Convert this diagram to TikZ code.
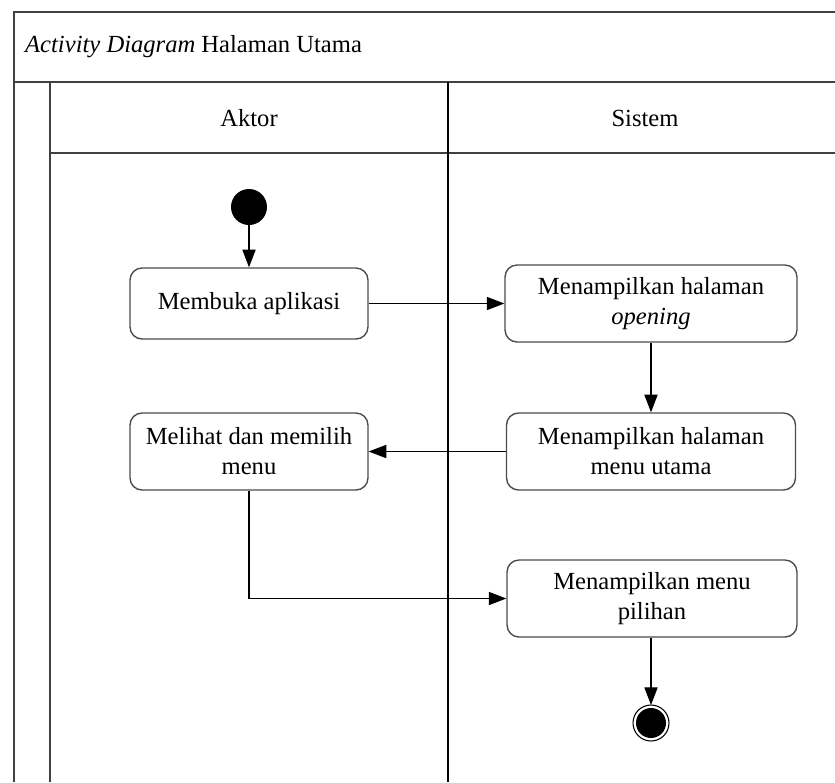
\documentclass[tikz,border=0pt]{standalone}
\usepackage{fontspec}
\setmainfont{Liberation Serif}
\usepackage{tikz}
\usetikzlibrary{arrows.meta}
\tikzset{
	lane/.style={draw=black!75, line width=1pt},
	act/.style={draw=black!70, line width=0.8pt, rounded corners=0.24cm, align=center,
		font=\fontsize{14}{17}\selectfont, inner sep=2pt},
	flow/.style={draw=black, line width=0.6pt, -{Triangle[length=10pt,width=7.5pt]}}
}
\begin{document}
\begin{tikzpicture}[x=0.02cm, y=-0.02cm]
	\useasboundingbox (0,0) rectangle (835,782);
	\clip (0,0) rectangle (835,782);
	%SWIMLANES
	\draw[lane] (14,782)--(14,12)--(835,12);	%outer frame
	\draw[lane] (14,82)--(835,82);			%title row
	\draw[lane] (50,782)--(50,82);
	\draw[lane] (50,153)--(835,153);		%header row
	\draw[black, line width=0.8pt] (448,82)--(448,782);	%lane divider
	
	%LABELS
	\node[anchor=west, font=\fontsize{14}{17}\selectfont] (title) at (19,47) {\textit{Activity Diagram} Halaman Utama};
	\node[font=\fontsize{14}{17}\selectfont] (aktor) at (249,118) {Aktor};
	\node[font=\fontsize{14}{17}\selectfont] (sistem) at (645,118) {Sistem};
	
	%ACTIVITIES
	\fill (249,207) circle (0.36cm);
	\coordinate (start) at (249,225);
	\node[act, minimum width=4.76cm, minimum height=1.42cm] (buka) at (249,303.5) {Membuka aplikasi};
	\node[act, minimum width=5.84cm, minimum height=1.54cm] (opening) at (651,303.5) {Menampilkan halaman\\\textit{opening}};
	\node[act, minimum width=5.78cm, minimum height=1.54cm] (utama) at (651,451.5) {Menampilkan halaman\\menu utama};
	\node[act, minimum width=4.76cm, minimum height=1.54cm] (lihat) at (249,451.5) {Melihat dan memilih\\menu};
	\node[act, minimum width=5.8cm, minimum height=1.54cm] (pilihan) at (652,598.5) {Menampilkan menu\\pilihan};
	\draw[line width=0.6pt] (651,723) circle (0.36cm);
	\fill (651,723) circle (0.3cm);
	\coordinate (stop) at (651,705);
	
	%ARROWS
	\draw[flow] (start)--(buka);
	\draw[flow] (buka)--(opening);
	\draw[flow] (opening.south)--(opening.south|-utama.north);
	\draw[flow] (utama)--(lihat);
	\draw[flow] (lihat.south)|-(pilihan.west);
	\draw[flow] (pilihan.south-|stop)--(stop);
\end{tikzpicture}
\end{document}
